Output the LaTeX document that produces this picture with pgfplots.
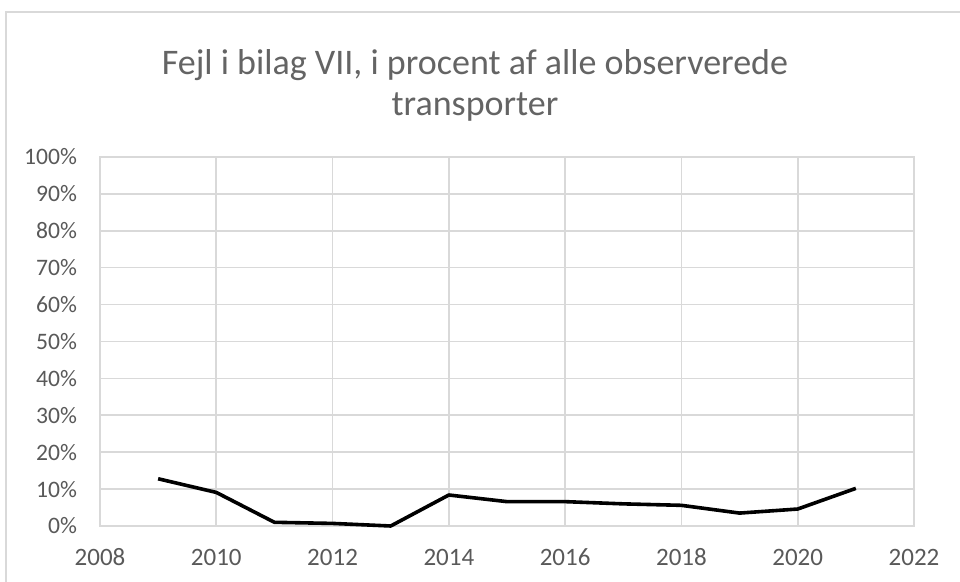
\documentclass[border=0pt]{standalone}
\usepackage{pgfplots}
\pgfplotsset{compat=1.18}
\usepackage{fontspec}
\setmainfont{Carlito}
\definecolor{gridgray}{RGB}{217,217,217}
\definecolor{txtgray}{RGB}{89,89,89}
\definecolor{titlegray}{RGB}{100,100,100}

\begin{document}
\begin{tikzpicture}
  % page = 960x582 px, 1 px = 0.5pt
  \path[use as bounding box] (0pt,0pt) rectangle (480pt,-291pt);
  \draw[gridgray, line width=0.6pt] (3pt,-400pt) -- (3pt,-6pt) -- (600pt,-6pt);
  \node[titlegray, font=\fontsize{18}{20.5}\selectfont, align=center] at (237.5pt,-42.5pt)
    {Fejl i bilag VII, i procent af alle observerede\\transporter};
  \begin{axis}[
      at={(50pt,-263pt)}, anchor=origin,
      scale only axis,
      width=407pt, height=184.5pt,
      xmin=2008, xmax=2022, ymin=0, ymax=100,
      xtick={2008,2010,...,2022},
      ytick={0,10,...,100},
      grid=major,
      major grid style={gridgray, line width=0.8pt},
      axis line style={gridgray, line width=0.8pt},
      major tick length=0pt,
      tick label style={txtgray},
      /pgf/number format/assume math mode=true,
      /pgf/number format/1000 sep={},
      yticklabel={\pgfmathprintnumber[fixed,precision=0]{\tick}\%},
      yticklabel style={font=\fontsize{11.8}{14}\selectfont, xshift=-8pt},
      xticklabel style={font=\fontsize{12.5}{14}\selectfont, text height=8pt, text depth=0pt, yshift=-8pt},
      clip=false,
    ]
    \addplot[black, line width=1.8pt, line join=round] coordinates {
      (2009,12.8) (2010,9.1) (2011,1.0) (2012,0.7) (2013,0.0) (2014,8.4)
      (2015,6.6) (2016,6.6) (2017,6.0) (2018,5.6) (2019,3.5) (2020,4.6)
      (2021,10.2)
    };
  \end{axis}
\end{tikzpicture}
\end{document}
